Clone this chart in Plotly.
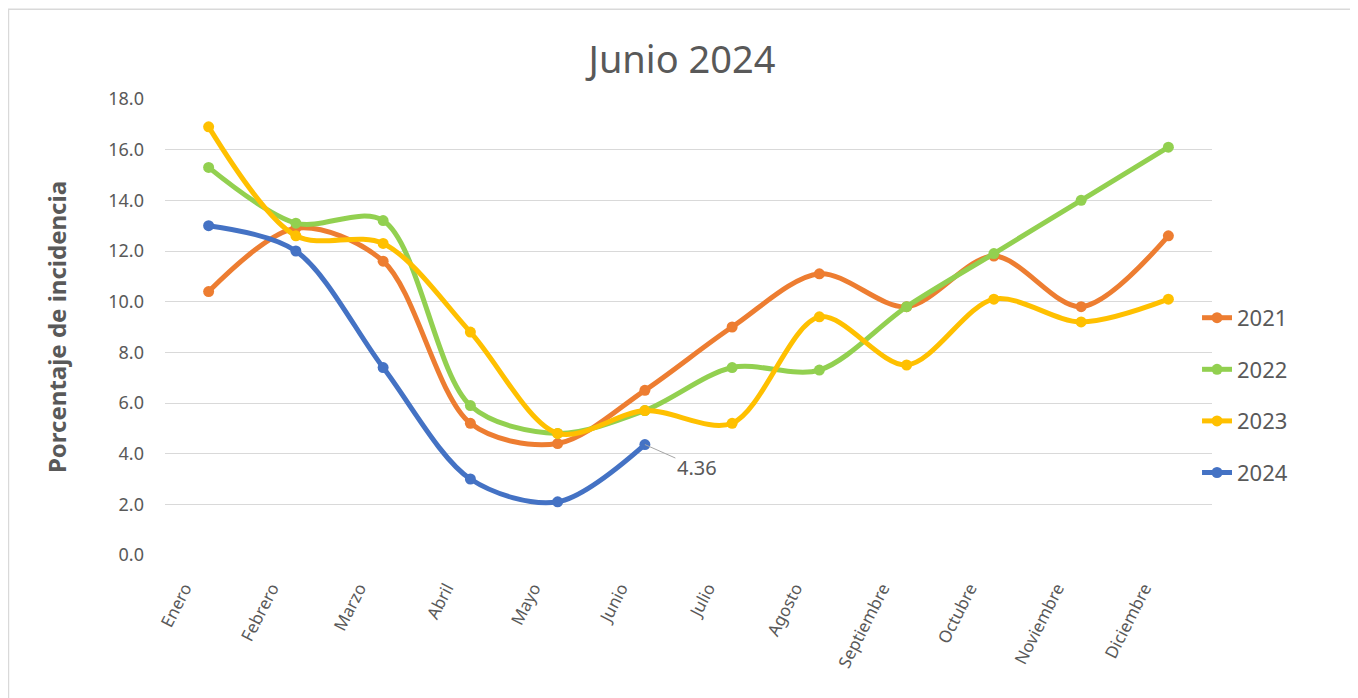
import plotly.graph_objects as go

months = ["Enero", "Febrero", "Marzo", "Abril", "Mayo", "Junio", "Julio",
          "Agosto", "Septiembre", "Octubre", "Noviembre", "Diciembre"]
y2021 = [10.4, 12.9, 11.6, 5.2, 4.4, 6.5, 9.0, 11.1, 9.8, 11.8, 9.8, 12.6]
y2022 = [15.3, 13.1, 13.2, 5.9, 4.8, 5.7, 7.4, 7.3, 9.8, 11.9, 14.0, 16.1]
y2023 = [16.9, 12.6, 12.3, 8.8, 4.8, 5.7, 5.2, 9.4, 7.5, 10.1, 9.2, 10.1]
y2024 = [13.0, 12.0, 7.4, 3.0, 2.1, 4.36]

series = [("2021", y2021, "#ED7D31"), ("2022", y2022, "#92D050"),
          ("2023", y2023, "#FFC000"), ("2024", y2024, "#4472C4")]

FONT = "Noto Sans"
GRAY = "#595959"

fig = go.Figure()
for name, vals, col in series:
    fig.add_trace(go.Scatter(
        x=months[:len(vals)], y=vals, name=name, mode="lines+markers",
        line=dict(color=col, width=5, shape="spline", smoothing=0.9),
        marker=dict(color=col, size=11),
        legendgroup=name,
    ))

last_idx = len(y2024) - 1
fig.add_annotation(x=months[last_idx], y=y2024[last_idx], text=f"{y2024[last_idx]:.2f}",
                   showarrow=True, arrowhead=0, arrowwidth=1, arrowcolor="#A6A6A6",
                   ax=52, ay=23, font=dict(family=FONT, size=20, color=GRAY))

fig.add_shape(type="rect", xref="paper", yref="paper",
              x0=-0.1495, x1=1.1385, y0=-0.35, y1=1.197,
              line=dict(color="#D9D9D9", width=1.5), layer="below")

fig.update_layout(
    width=1358, height=698,
    margin=dict(l=157, r=154, t=91, b=151),
    paper_bgcolor="white", plot_bgcolor="white",
    title=dict(text="Junio 2024", x=(674 - 157) / 1047, xref="paper", xanchor="center",
               y=1 - 52 / 698, yanchor="middle",
               font=dict(family=FONT, size=38, color=GRAY)),
    font=dict(family=FONT, color=GRAY),
    showlegend=True,
    legend=dict(x=0.9857, xanchor="left", y=0.566, yanchor="top",
                font=dict(family=FONT, size=22, color=GRAY),
                tracegroupgap=20, bgcolor="rgba(0,0,0,0)"),
    xaxis=dict(type="category", categoryorder="array", categoryarray=months,
               range=[-0.5, 11.5], tickangle=-63, showgrid=False, showline=False,
               ticks="", ticklabelstandoff=19, ticklabelshift=-24,
               tickfont=dict(family=FONT, size=17, color=GRAY)),
    yaxis=dict(range=[0, 18], dtick=2, tickformat=".1f", showgrid=True,
               gridcolor="#D9D9D9", gridwidth=1.3, zeroline=False, showline=False,
               ticks="", ticklabelstandoff=20,
               tickfont=dict(family=FONT, size=18, color=GRAY),
               title=dict(text="<b>Porcentaje de incidencia</b>", standoff=34,
                          font=dict(family=FONT, size=24, color=GRAY))),
)

fig.write_html("out.html")
